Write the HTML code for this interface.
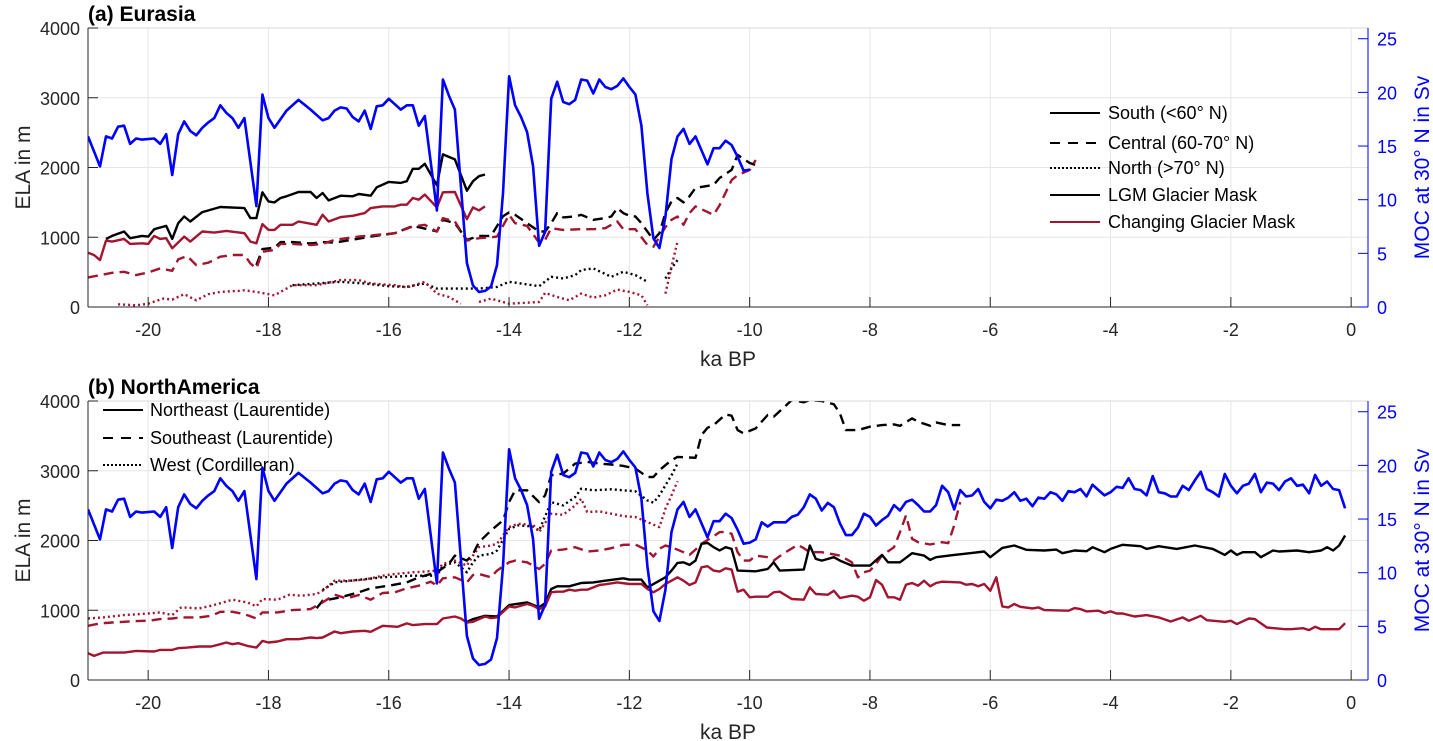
<!DOCTYPE html>
<html><head><meta charset="utf-8"><style>
html,body{margin:0;padding:0;background:#fff;}
svg{display:block;font-family:"Liberation Sans",Arial,sans-serif;}
</style></head><body>
<svg id="chart" width="1433" height="741" viewBox="0 0 1433 741" xmlns="http://www.w3.org/2000/svg"></svg>
<script>
// ---- data ----
const xTicks = [-20,-18,-16,-14,-12,-10,-8,-6,-4,-2,0];
const elaTicks = [0,1000,2000,3000,4000];
const mocTicks = [0,5,10,15,20,25];

const moc = [[-21,15.9],[-20.8,13.1],[-20.7,15.9],[-20.6,15.7],[-20.5,16.8],[-20.4,16.9],[-20.3,15.2],[-20.2,15.7],[-20.1,15.6],[-19.9,15.7],[-19.8,15.2],[-19.7,16.1],[-19.6,12.3],[-19.5,16.1],[-19.4,17.3],[-19.3,16.4],[-19.2,16.0],[-19.1,16.7],[-19.0,17.2],[-18.9,17.6],[-18.8,18.8],[-18.7,18.1],[-18.6,17.6],[-18.5,16.7],[-18.4,17.6],[-18.2,9.4],[-18.1,19.8],[-18.0,17.6],[-17.9,16.7],[-17.7,18.3],[-17.5,19.3],[-17.3,18.4],[-17.1,17.4],[-17.0,17.6],[-16.9,18.3],[-16.8,18.6],[-16.7,18.5],[-16.6,17.7],[-16.5,17.3],[-16.4,18.3],[-16.3,16.6],[-16.2,18.7],[-16.1,18.8],[-16.0,19.4],[-15.9,18.9],[-15.8,18.4],[-15.7,18.8],[-15.6,18.8],[-15.5,16.9],[-15.4,17.8],[-15.2,9.0],[-15.1,21.2],[-15.0,19.7],[-14.9,18.4],[-14.7,4.1],[-14.6,2.0],[-14.5,1.4],[-14.4,1.5],[-14.3,1.9],[-14.2,3.9],[-14.1,10.6],[-14.0,21.5],[-13.9,18.8],[-13.8,17.7],[-13.7,16.3],[-13.6,13.1],[-13.5,5.7],[-13.4,7.0],[-13.3,19.4],[-13.2,21.0],[-13.1,19.1],[-13.0,18.9],[-12.9,19.3],[-12.8,21.2],[-12.7,21.1],[-12.6,19.9],[-12.5,21.2],[-12.4,20.5],[-12.3,20.3],[-12.2,20.6],[-12.1,21.3],[-12.0,20.5],[-11.9,19.8],[-11.8,16.9],[-11.7,10.6],[-11.6,6.4],[-11.5,5.5],[-11.4,8.4],[-11.3,13.8],[-11.2,15.9],[-11.1,16.6],[-11.0,15.2],[-10.9,15.9],[-10.7,13.3],[-10.6,14.8],[-10.5,14.8],[-10.4,15.5],[-10.3,15.1],[-10.2,14.0],[-10.1,12.7],[-10.0,12.8],[-9.9,13.1],[-9.8,14.7],[-9.7,14.3],[-9.6,14.7],[-9.4,14.7],[-9.3,15.2],[-9.2,15.4],[-9.1,16.1],[-9.0,17.3],[-8.9,16.9],[-8.8,15.8],[-8.7,16.5],[-8.6,16.1],[-8.5,14.6],[-8.4,13.5],[-8.3,13.5],[-8.2,14.2],[-8.1,15.5],[-8.0,15.2],[-7.9,14.4],[-7.8,14.9],[-7.7,15.3],[-7.6,16.3],[-7.5,15.8],[-7.4,16.6],[-7.3,16.8],[-7.2,16.3],[-7.1,15.7],[-7.0,15.7],[-6.9,16.3],[-6.8,18.1],[-6.7,17.5],[-6.6,15.9],[-6.5,17.7],[-6.4,17.1],[-6.3,17.2],[-6.2,17.8],[-6.1,16.6],[-6.0,16.0],[-5.9,16.8],[-5.8,16.7],[-5.7,17.0],[-5.6,17.5],[-5.5,16.7],[-5.4,16.9],[-5.3,16.2],[-5.2,17.0],[-5.1,16.9],[-5.0,17.5],[-4.9,17.3],[-4.8,16.7],[-4.7,17.6],[-4.6,17.5],[-4.5,17.8],[-4.4,17.1],[-4.3,18.2],[-4.2,17.7],[-4.1,17.2],[-4.0,17.5],[-3.9,18.0],[-3.8,17.9],[-3.7,18.8],[-3.6,17.8],[-3.5,17.7],[-3.4,17.2],[-3.3,19.0],[-3.2,17.5],[-3.1,17.4],[-3.0,17.1],[-2.9,17.1],[-2.8,18.1],[-2.7,17.7],[-2.6,18.6],[-2.5,19.4],[-2.4,17.8],[-2.3,17.5],[-2.2,17.1],[-2.1,19.2],[-2.0,18.1],[-1.9,17.4],[-1.8,18.1],[-1.7,18.3],[-1.6,19.2],[-1.5,17.5],[-1.4,18.4],[-1.3,18.3],[-1.2,17.7],[-1.1,18.5],[-1.0,18.8],[-0.9,18.1],[-0.8,18.2],[-0.7,17.4],[-0.6,19.1],[-0.5,18.1],[-0.4,18.5],[-0.3,17.8],[-0.2,17.7],[-0.1,16.0]];

// Eurasia
const eurSouthLgm = [[-20.7,976],[-20.6,1019],[-20.4,1082],[-20.3,986],[-20.1,1019],[-20.0,1010],[-19.9,1115],[-19.7,1163],[-19.6,976],[-19.5,1202],[-19.4,1298],[-19.3,1226],[-19.1,1360],[-18.8,1433],[-18.4,1418],[-18.3,1274],[-18.2,1274],[-18.1,1644],[-18.0,1514],[-17.9,1500],[-17.8,1563],[-17.7,1587],[-17.5,1649],[-17.3,1649],[-17.2,1563],[-17.1,1635],[-17.0,1529],[-16.8,1596],[-16.6,1587],[-16.5,1620],[-16.3,1596],[-16.2,1716],[-16.0,1793],[-15.8,1779],[-15.7,1803],[-15.6,1981],[-15.5,1981],[-15.4,2053],[-15.2,1745],[-15.1,2188],[-14.9,2116],[-14.7,1668],[-14.6,1803],[-14.5,1875],[-14.4,1899]];
const eurSouthChg = [[-21,779],[-20.9,745],[-20.8,673],[-20.7,952],[-20.6,938],[-20.4,976],[-20.3,904],[-20.1,913],[-20.0,904],[-19.9,1019],[-19.8,976],[-19.7,986],[-19.6,841],[-19.4,1010],[-19.3,938],[-19.1,1082],[-18.9,1067],[-18.7,1091],[-18.4,1058],[-18.3,938],[-18.2,913],[-18.1,1188],[-18.0,1106],[-17.9,1106],[-17.8,1178],[-17.6,1178],[-17.5,1226],[-17.2,1178],[-17.1,1322],[-17.0,1226],[-16.8,1289],[-16.6,1308],[-16.4,1346],[-16.3,1418],[-16.1,1442],[-15.9,1442],[-15.8,1466],[-15.7,1466],[-15.6,1563],[-15.5,1539],[-15.4,1611],[-15.2,1428],[-15.1,1644],[-14.9,1649],[-14.7,1260],[-14.6,1428],[-14.5,1385],[-14.4,1442]];
const eurCentralLgm = [[-18.2,600],[-18.1,830],[-17.9,850],[-17.8,930],[-17.6,930],[-17.3,910],[-17.1,930],[-16.9,923],[-16.3,1010],[-15.9,1058],[-15.6,1163],[-15.3,1106],[-15.2,1082],[-15.1,1250],[-14.9,1202],[-14.7,962],[-14.5,1019],[-14.3,1019],[-14.1,1300],[-14.0,1356],[-13.9,1322],[-13.7,1202],[-13.5,1082],[-13.4,1082],[-13.3,1202],[-13.2,1346],[-13.1,1284],[-12.9,1298],[-12.8,1322],[-12.6,1250],[-12.4,1274],[-12.3,1298],[-12.2,1418],[-12.1,1346],[-12.0,1308],[-11.9,1298],[-11.8,1202],[-11.6,962],[-11.5,1058],[-11.4,1346],[-11.3,1514],[-11.2,1563],[-11.1,1500],[-11.0,1587],[-10.9,1707],[-10.6,1750],[-10.5,1850],[-10.3,1965],[-10.2,2180],[-10.0,2065],[-9.9,2036]];
const eurCentralChg = [[-21,423],[-20.8,457],[-20.6,490],[-20.4,505],[-20.2,457],[-20.0,495],[-19.8,553],[-19.6,519],[-19.5,683],[-19.35,731],[-19.2,601],[-19.0,635],[-18.8,721],[-18.6,745],[-18.4,745],[-18.3,625],[-18.2,553],[-18.1,793],[-17.9,817],[-17.8,904],[-17.6,904],[-17.3,889],[-17.1,904],[-16.9,962],[-16.5,1010],[-16.1,1043],[-15.9,1058],[-15.6,1154],[-15.4,1178],[-15.2,1082],[-15.1,1274],[-14.9,1226],[-14.7,952],[-14.5,986],[-14.3,1000],[-14.2,1010],[-14.0,1322],[-13.9,1202],[-13.7,1163],[-13.5,923],[-13.4,962],[-13.3,1130],[-13.1,1106],[-12.8,1115],[-12.6,1115],[-12.4,1130],[-12.2,1226],[-12.1,1115],[-11.9,1115],[-11.7,889],[-11.6,865],[-11.4,1144],[-11.3,1250],[-11.2,1298],[-11.1,1178],[-11.0,1346],[-10.9,1442],[-10.6,1320],[-10.5,1460],[-10.3,1820],[-10.2,1890],[-10.0,1965],[-9.9,2108]];
const eurNorthLgm = [[-17.6,313],[-17.2,337],[-16.8,361],[-16.4,337],[-16.0,298],[-15.7,288],[-15.4,337],[-15.2,264],[-14.8,264],[-14.5,264],[-14.2,288],[-14.0,361],[-13.8,337],[-13.5,298],[-13.3,433],[-13.1,409],[-12.9,457],[-12.8,529],[-12.6,553],[-12.3,433],[-12.1,505],[-11.9,457],[-11.7,361],[null,null],[-11.4,409],[-11.3,553],[-11.2,673]];
const eurNorthChg = [[-20.5,38],[-20.2,24],[-20.0,48],[-19.75,120],[-19.6,106],[-19.4,183],[-19.2,96],[-19.0,183],[-18.8,216],[-18.5,231],[-18.4,240],[-18.2,216],[-17.9,168],[-17.6,313],[-17.2,313],[-16.8,385],[-16.5,385],[-16.3,337],[-15.9,313],[-15.7,279],[-15.4,361],[-15.2,192],[-15.0,144],[-14.8,48],[null,null],[-14.5,72],[-14.3,120],[-14.0,48],[-13.8,58],[-13.5,72],[-13.4,202],[-13.2,144],[-13.0,96],[-12.8,192],[-12.6,135],[-12.4,168],[-12.2,250],[-12.0,216],[-11.8,168],[-11.7,24],[null,null],[-11.4,192],[-11.3,577],[-11.2,938]];

// North America
const naNeChg = [[-21,384],[-20.9,345],[-20.75,393],[-20.4,393],[-20.2,417],[-19.9,408],[-19.8,432],[-19.6,432],[-19.5,456],[-19.35,465],[-19.15,480],[-18.95,480],[-18.8,513],[-18.7,537],[-18.6,513],[-18.5,528],[-18.35,489],[-18.2,465],[-18.1,561],[-18.0,537],[-17.85,552],[-17.7,585],[-17.5,585],[-17.3,609],[-17.2,600],[-17.1,609],[-16.9,695],[-16.8,671],[-16.6,695],[-16.4,705],[-16.3,691],[-16.1,777],[-15.85,763],[-15.7,811],[-15.6,787],[-15.4,801],[-15.2,801],[-15.1,882],[-14.9,911],[-14.8,882],[-14.7,825],[-14.6,834],[-14.4,911],[-14.3,887],[-14.2,897],[-14.0,1055],[-13.9,1041],[-13.7,1089],[-13.6,1065],[-13.5,1017],[-13.4,1055],[-13.3,1257],[-13.2,1266],[-13.1,1266],[-13.0,1295],[-12.9,1281],[-12.8,1295],[-12.7,1295],[-12.6,1328],[-12.5,1362],[-12.4,1372],[-12.2,1400],[-12.0,1376],[-11.8,1376],[-11.7,1305],[-11.6,1257],[-11.5,1305],[-11.4,1376],[-11.3,1424],[-11.2,1472],[-11.1,1424],[-11.0,1362],[-10.9,1400],[-10.8,1616],[-10.7,1631],[-10.6,1568],[-10.5,1554],[-10.4,1602],[-10.3,1583],[-10.2,1266],[-10.1,1295],[-10.0,1185],[-9.9,1194],[-9.7,1194],[-9.6,1257],[-9.5,1266],[-9.3,1161],[-9.1,1151],[-9.0,1328],[-8.9,1233],[-8.7,1223],[-8.6,1281],[-8.5,1175],[-8.3,1209],[-8.2,1194],[-8.1,1137],[-8.0,1185],[-7.9,1434],[-7.8,1367],[-7.7,1185],[-7.6,1185],[-7.5,1151],[-7.4,1367],[-7.3,1391],[-7.2,1352],[-7.1,1424],[-7.0,1343],[-6.9,1391],[-6.8,1410],[-6.5,1400],[-6.4,1367],[-6.3,1376],[-6.2,1343],[-6.1,1376],[-6.0,1281],[-5.9,1472],[-5.8,1055],[-5.7,1041],[-5.6,1089],[-5.5,1050],[-5.3,1026],[-5.2,1041],[-5.1,1002],[-4.7,993],[-4.6,1031],[-4.5,1017],[-4.4,983],[-4.2,993],[-4.1,959],[-4.0,983],[-3.9,954],[-3.8,954],[-3.6,911],[-3.4,930],[-3.2,897],[-3.0,839],[-2.8,897],[-2.7,849],[-2.5,921],[-2.4,858],[-2.1,834],[-2.0,849],[-1.9,801],[-1.7,882],[-1.6,873],[-1.4,753],[-1.1,729],[-1.0,729],[-0.8,743],[-0.7,715],[-0.6,763],[-0.5,729],[-0.2,729],[-0.1,815]];
const naNeLgm = [[-14.7,835],[-14.6,873],[-14.4,921],[-14.2,911],[-14.0,1074],[-13.7,1113],[-13.5,1041],[-13.4,1103],[-13.3,1305],[-13.2,1343],[-13.0,1343],[-12.8,1391],[-12.6,1400],[-12.4,1424],[-12.1,1458],[-12.0,1439],[-11.8,1439],[-11.7,1328],[-11.5,1424],[-11.4,1472],[-11.3,1568],[-11.2,1679],[-11.1,1688],[-11.0,1650],[-10.9,1712],[-10.8,1952],[-10.7,1966],[-10.6,1904],[-10.5,1856],[-10.4,1904],[-10.3,1880],[-10.2,1568],[-9.9,1559],[-9.7,1592],[-9.6,1688],[-9.5,1568],[-9.1,1583],[-9.0,1928],[-8.9,1736],[-8.8,1712],[-8.6,1760],[-8.5,1712],[-8.3,1640],[-8.0,1640],[-7.8,1794],[-7.7,1688],[-7.5,1688],[-7.3,1818],[-7.1,1784],[-7.0,1722],[-6.9,1760],[-6.6,1794],[-6.3,1822],[-6.1,1842],[-6.0,1760],[-5.8,1894],[-5.6,1928],[-5.4,1866],[-5.1,1856],[-4.9,1870],[-4.8,1818],[-4.6,1856],[-4.4,1846],[-4.3,1904],[-4.1,1832],[-4.0,1880],[-3.8,1938],[-3.5,1918],[-3.4,1880],[-3.2,1918],[-2.9,1880],[-2.6,1928],[-2.3,1880],[-2.1,1794],[-2.0,1856],[-1.9,1794],[-1.8,1832],[-1.6,1832],[-1.5,1760],[-1.3,1856],[-1.2,1842],[-0.9,1856],[-0.7,1832],[-0.5,1856],[-0.4,1904],[-0.3,1856],[-0.2,1928],[-0.1,2072]];
const naSeChg = [[-21,777],[-20.8,811],[-20.6,825],[-20.4,834],[-20.2,844],[-20.0,849],[-19.8,873],[-19.6,882],[-19.45,897],[-19.15,897],[-18.95,921],[-18.8,978],[-18.6,978],[-18.4,945],[-18.2,882],[-18.1,969],[-17.85,969],[-17.6,1002],[-17.3,1017],[-17.1,1113],[-16.9,1223],[-16.7,1170],[-16.5,1218],[-16.3,1151],[-16.1,1247],[-15.9,1257],[-15.7,1314],[-15.5,1352],[-15.3,1410],[-15.2,1352],[-15.1,1458],[-14.9,1472],[-14.7,1400],[-14.6,1506],[-14.5,1520],[-14.3,1472],[-14.2,1568],[-14.0,1688],[-13.9,1712],[-13.7,1688],[-13.5,1592],[-13.4,1664],[-13.3,1856],[-13.1,1870],[-12.9,1904],[-12.7,1842],[-12.5,1856],[-12.3,1890],[-12.1,1938],[-11.9,1942],[-11.7,1856],[-11.6,1770],[-11.5,1880],[-11.4,1928],[-11.3,1904],[-11.1,1832],[-11.0,1794],[-10.9,1870],[-10.8,1952],[-10.6,2062],[-10.5,2120],[-10.4,2120],[-10.3,2096],[-10.2,1832],[-10.1,1712],[-10.0,1712],[-9.9,1784],[-9.7,1760],[-9.6,1712],[-9.5,1775],[-9.4,1832],[-9.2,1938],[-9.1,1890],[-9.0,1832],[-8.8,1832],[-8.5,1784],[-8.3,1688],[-8.2,1472],[-8.1,1544],[-8.0,1568],[-7.9,1664],[-7.8,1784],[-7.6,1904],[-7.5,2120],[-7.4,2360],[-7.3,2024],[-7.2,1976],[-7.0,1942],[-6.8,1976],[-6.7,1962],[-6.6,2216],[-6.5,2551]];
const naSeLgm = [[-17.2,1030],[-17.1,1137],[-16.8,1185],[-16.5,1257],[-16.3,1314],[-16.0,1352],[-15.7,1400],[-15.5,1472],[-15.2,1544],[-15.0,1664],[-14.9,1784],[-14.7,1712],[-14.6,1808],[-14.5,1976],[-14.3,2144],[-14.1,2288],[-14.0,2551],[-13.9,2719],[-13.7,2719],[-13.5,2551],[-13.4,2647],[-13.3,2935],[-13.1,2959],[-12.9,3103],[-12.7,3127],[-12.5,3103],[-12.3,3089],[-12.1,3069],[-11.9,3031],[-11.7,2911],[-11.6,2911],[-11.5,3007],[-11.4,3079],[-11.3,3151],[-11.2,3199],[-11.0,3190],[-10.9,3185],[-10.8,3511],[-10.7,3616],[-10.6,3655],[-10.4,3808],[-10.3,3789],[-10.2,3583],[-10.1,3535],[-9.9,3607],[-9.7,3799],[-9.6,3775],[-9.4,3933],[-9.3,4014],[-9.1,3981],[-9.0,4014],[-8.8,4000],[-8.6,3952],[-8.5,3822],[-8.4,3583],[-8.2,3583],[-8.0,3631],[-7.8,3655],[-7.6,3664],[-7.5,3645],[-7.3,3750],[-7.2,3703],[-7.0,3645],[-6.9,3693],[-6.7,3655],[-6.5,3655]];
const naWestChg = [[-21,882],[-20.75,897],[-20.4,930],[-20.0,954],[-19.8,969],[-19.6,930],[-19.45,1041],[-19.15,1026],[-18.95,1065],[-18.75,1113],[-18.6,1151],[-18.35,1113],[-18.2,1055],[-18.1,1161],[-17.85,1151],[-17.65,1223],[-17.45,1209],[-17.2,1233],[-17.1,1281],[-16.9,1424],[-16.65,1424],[-16.4,1439],[-16.1,1496],[-15.9,1520],[-15.6,1544],[-15.4,1554],[-15.2,1568],[-15.1,1664],[-14.9,1712],[-14.7,1640],[-14.6,1784],[-14.5,1904],[-14.3,1928],[-14.2,1952],[-14.0,2192],[-13.85,2240],[-13.6,2225],[-13.5,2120],[-13.3,2384],[-13.1,2369],[-12.9,2503],[-12.8,2599],[-12.7,2408],[-12.5,2417],[-12.3,2384],[-12.1,2350],[-11.9,2336],[-11.7,2264],[-11.5,2192],[-11.4,2455],[-11.3,2647],[-11.2,2849]];
const naWestLgm = [[-17.1,1290],[-16.9,1400],[-16.1,1472],[-15.6,1496],[-15.2,1496],[-15.1,1640],[-14.9,1688],[-14.7,1544],[-14.6,1688],[-14.5,1784],[-14.3,1808],[-14.2,1856],[-14.0,2168],[-13.85,2216],[-13.6,2200],[-13.5,2144],[-13.3,2551],[-13.1,2503],[-12.9,2623],[-12.8,2743],[-12.6,2719],[-12.3,2734],[-12.1,2719],[-11.9,2705],[-11.7,2575],[-11.6,2542],[-11.5,2647],[-11.4,2791],[-11.3,2935],[-11.2,3103]];

// ---- drawing ----
const NS='http://www.w3.org/2000/svg';
const svg=document.getElementById('chart');
const X0=88,X1=1368,TMIN=-21,TMAX=0.28;
function xs(t){return X0+(t-TMIN)/(TMAX-TMIN)*(X1-X0);}
const RED='#a2142f',BLUE='#0000ff';
function mk(tag,attrs,parent){const e=document.createElementNS(NS,tag);for(const k in attrs)e.setAttribute(k,attrs[k]);(parent||svg).appendChild(e);return e;}
function txt(s,attrs,parent){const e=mk('text',attrs,parent);e.textContent=s;return e;}

function panel(id,top,bottom,title,series,mocMax,legendFn){
  const g=mk('g',{});
  
  
  const ys=v=>bottom-(v/4000)*(bottom-top);
  const ym=v=>bottom-(v/26)*(bottom-top);
  const cp=mk('clipPath',{id:'clip-'+id},g);
  mk('rect',{x:X0,y:top,width:X1-X0,height:bottom-top},cp);
  xTicks.forEach(t=>{const l=mk('line',{x1:xs(t),x2:xs(t),y1:top,y2:bottom,stroke:'#e6e6e6','stroke-width':1},g);
    });
  elaTicks.forEach(v=>{const l=mk('line',{x1:X0,x2:X1,y1:ys(v),y2:ys(v),stroke:'#e6e6e6','stroke-width':1},g);
    });
  const sg=mk('g',{'clip-path':'url(#clip-'+id+')'},g);
  series.forEach(s=>{
    let d='',pen=false;
    s.data.forEach(p=>{if(p[0]===null){pen=false;return;}const sx=xs(p[0]),sy=s.moc?ym(p[1]):ys(p[1]);d+=(pen?'L':'M')+sx.toFixed(1)+' '+sy.toFixed(1);pen=true;});
    const a={d:d,fill:'none',stroke:s.color,'stroke-width':s.w||2.4,'stroke-linejoin':'round'};
    if(s.dash)a['stroke-dasharray']=s.dash;
    const p=mk('path',a,sg);
    
    
  });
  mk('line',{x1:X0,x2:X1,y1:top,y2:top,stroke:'#cccccc','stroke-width':0.6},g);
  mk('line',{x1:X0,x2:X1,y1:bottom,y2:bottom,stroke:'#262626','stroke-width':1},g);
  mk('line',{x1:X0,x2:X0,y1:top,y2:bottom,stroke:'#262626','stroke-width':1},g);
  mk('line',{x1:X1,x2:X1,y1:top,y2:bottom,stroke:BLUE,'stroke-width':1},g);
  xTicks.forEach(t=>{
    mk('line',{x1:xs(t),x2:xs(t),y1:bottom,y2:bottom-10,stroke:'#262626','stroke-width':1},g);
    const l=txt(String(t),{x:xs(t),y:bottom+29,'text-anchor':'middle','font-size':18,fill:'#262626'},g);
    
  });
  elaTicks.forEach(v=>{
    mk('line',{x1:X0,x2:X0+10,y1:ys(v),y2:ys(v),stroke:'#262626','stroke-width':1},g);
    const l=txt(String(v),{x:X0-8,y:ys(v)+7,'text-anchor':'end','font-size':18,fill:'#262626'},g);
    
  });
  mocTicks.forEach(v=>{
    mk('line',{x1:X1,x2:X1-10,y1:ym(v),y2:ym(v),stroke:BLUE,'stroke-width':1},g);
    const l=txt(String(v),{x:X1+9,y:ym(v)+7,'font-size':18,fill:BLUE},g);
    
  });
  const mid=(top+bottom)/2;
  let e=txt('ELA in m',{x:0,y:0,transform:`translate(30,${mid}) rotate(-90)`,'text-anchor':'middle','font-size':21,fill:'#262626'},g);
  
  e=txt('MOC at 30° N in Sv',{x:0,y:0,transform:`translate(1429,${mid}) rotate(-90)`,'text-anchor':'middle','font-size':21,fill:BLUE},g);
  
  e=txt('ka BP',{x:(X0+X1)/2,y:bottom+59,'text-anchor':'middle','font-size':21,fill:'#262626'},g);
  
  e=txt(title,{x:X0,y:top-7,'font-size':21,'font-weight':'bold',fill:'#000'},g);
  
  legendFn(g);
}
function legendEntry(g,x1,x2,y,label,color,dash,tx,name){
  const lg=mk('g',{},g);
  
  
  const a={x1:x1,x2:x2,y1:y,y2:y,stroke:color,'stroke-width':2};
  if(dash)a['stroke-dasharray']=dash;
  mk('line',a,lg);
  txt(label,{x:tx,y:y+6,'font-size':18,fill:'#000'},lg);
}
const mocTop=moc.filter(p=>p[0]<=-10.0);
panel('eurasia',28,307,'(a) Eurasia',[
  {name:'central-lgm-line',data:eurCentralLgm,color:'#000',dash:'10,6'},
  {name:'central-changing-line',data:eurCentralChg,color:RED,dash:'10,6'},
  {name:'north-lgm-line',data:eurNorthLgm,color:'#000',dash:'2,3'},
  {name:'north-changing-line',data:eurNorthChg,color:RED,dash:'2,3'},
  {name:'south-lgm-line',data:eurSouthLgm,color:'#000'},
  {name:'south-changing-line',data:eurSouthChg,color:RED},
  {name:'moc-line',data:mocTop,color:BLUE,moc:true,w:2.6}
],26,g=>{
  const lg=mk('g',{},g);
  legendEntry(lg,1050,1100,113,'South (<60° N)','#000',null,1108,'legend-south');
  legendEntry(lg,1050,1100,143,'Central (60-70° N)','#000','10,8',1108,'legend-central');
  legendEntry(lg,1050,1100,168,'North (>70° N)','#000','2,2',1108,'legend-north');
  legendEntry(lg,1050,1100,195,'LGM Glacier Mask','#000',null,1108,'legend-lgm-mask');
  legendEntry(lg,1050,1100,222,'Changing Glacier Mask',RED,null,1108,'legend-changing-mask');
});
panel('north-america',401,680,'(b) NorthAmerica',[
  {name:'west-lgm-line',data:naWestLgm,color:'#000',dash:'2,3'},
  {name:'west-changing-line',data:naWestChg,color:RED,dash:'2,3'},
  {name:'southeast-lgm-line',data:naSeLgm,color:'#000',dash:'10,6'},
  {name:'southeast-changing-line',data:naSeChg,color:RED,dash:'10,6'},
  {name:'northeast-lgm-line',data:naNeLgm,color:'#000'},
  {name:'northeast-changing-line',data:naNeChg,color:RED},
  {name:'moc-line',data:moc,color:BLUE,moc:true,w:2.6}
],26,g=>{
  const lg=mk('g',{},g);
  legendEntry(lg,103,143,410,'Northeast  (Laurentide)','#000',null,150,'legend-northeast');
  legendEntry(lg,103,143,438,'Southeast  (Laurentide)','#000','10,8',150,'legend-southeast');
  legendEntry(lg,103,143,465,'West (Cordilleran)','#000','2,2',150,'legend-west');
});
</script>
</body></html>
